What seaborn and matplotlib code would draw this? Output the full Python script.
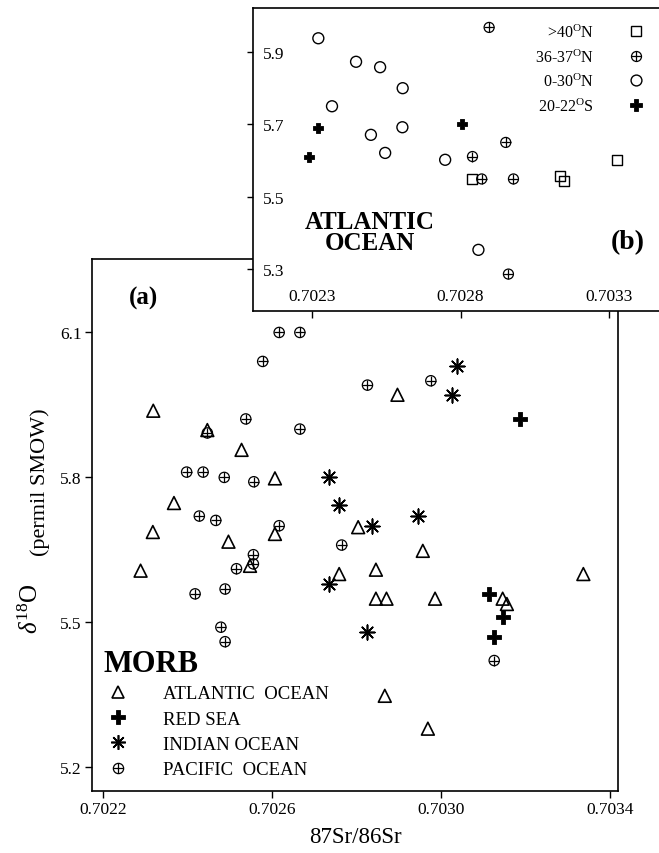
import numpy as np
import pandas as pd
import matplotlib
matplotlib.use("Agg")
import matplotlib.pyplot as plt
from matplotlib.lines import Line2D
import seaborn as sns

# ---------------- data : panel (a) MORB ----------------
atl_x = [0.702319, 0.702447, 0.702528, 0.702607, 0.702368, 0.702804, 0.702318,
         0.702607, 0.702497, 0.702289, 0.702548, 0.702759, 0.702846, 0.702846,
         0.702871, 0.702897, 0.702957, 0.703337, 0.702986, 0.703146, 0.703156,
         0.702867, 0.702969]
atl_y = [5.937, 5.897, 5.856, 5.797, 5.746, 5.696, 5.686,
         5.682, 5.666, 5.606, 5.616, 5.599, 5.608, 5.548,
         5.548, 5.970, 5.647, 5.599, 5.548, 5.548, 5.537,
         5.347, 5.279]

red_x = [0.703187, 0.703114, 0.703146, 0.703126]
red_y = [5.920, 5.558, 5.510, 5.468]

ind_x = [0.703037, 0.703025, 0.702736, 0.702759, 0.702837, 0.702946, 0.702736, 0.702826]
ind_y = [6.030, 5.970, 5.799, 5.741, 5.699, 5.719, 5.579, 5.479]

pac_x = [0.702617, 0.702666, 0.702578, 0.702826, 0.702976, 0.702538, 0.702447,
         0.702666, 0.702398, 0.702437, 0.702487, 0.702557, 0.702428, 0.702467,
         0.702617, 0.702765, 0.702556, 0.702556, 0.702516, 0.702418, 0.702489,
         0.702479, 0.702489, 0.703126]
pac_y = [6.099, 6.099, 6.039, 5.990, 5.999, 5.920, 5.891,
         5.899, 5.810, 5.810, 5.799, 5.790, 5.719, 5.710,
         5.699, 5.659, 5.639, 5.620, 5.610, 5.558, 5.568,
         5.489, 5.459, 5.420]

main_labels = ["ATLANTIC  OCEAN", "RED SEA", "INDIAN OCEAN", "PACIFIC  OCEAN"]
main_xticks = [0.7022, 0.7026, 0.7030, 0.7034]
main_yticks = [5.2, 5.5, 5.8, 6.1]

# ---------------- data : panel (b) Atlantic Ocean ----------------
n40_x = [0.703326, 0.702838, 0.703135, 0.703148]
n40_y = [5.601, 5.549, 5.558, 5.544]

n36_x = [0.702896, 0.702952, 0.702840, 0.702871, 0.702978, 0.702961]
n36_y = [5.968, 5.650, 5.611, 5.549, 5.549, 5.286]

n030_x = [0.702321, 0.702448, 0.702529, 0.702605, 0.702367, 0.702498,
          0.702604, 0.702546, 0.702748, 0.702860]
n030_y = [5.938, 5.873, 5.858, 5.800, 5.750, 5.671,
          5.692, 5.621, 5.602, 5.353]

s20_x = [0.702319, 0.702289, 0.702804]
s20_y = [5.689, 5.611, 5.701]

inset_labels = [r">40$^{\mathrm{O}}$N", r"36-37$^{\mathrm{O}}$N",
                r"0-30$^{\mathrm{O}}$N", r"20-22$^{\mathrm{O}}$S"]
inset_xticks = [0.7023, 0.7028, 0.7033]
inset_yticks = [5.3, 5.5, 5.7, 5.9]

# ---------------- style ----------------
sns.set_style("ticks")
plt.rcParams["font.family"] = ["Liberation Serif", "DejaVu Serif"]
plt.rcParams["mathtext.fontset"] = "custom"
plt.rcParams["mathtext.rm"] = "Liberation Serif"
plt.rcParams["mathtext.it"] = "Liberation Serif:italic"
plt.rcParams["mathtext.bf"] = "Liberation Serif:bold"
plt.rcParams["axes.linewidth"] = 1.2
for key in ["text.color", "axes.labelcolor", "xtick.color", "ytick.color",
            "axes.edgecolor"]:
    plt.rcParams[key] = "black"

W, H = 659, 854
fig = plt.figure(figsize=(W / 100, H / 100), dpi=100)

# main axes (a)
ax = fig.add_axes([92 / W, 62 / H, 526 / W, 532 / H])
# inset axes (b)
ax2 = fig.add_axes([253 / W, (H - 312) / H, (W - 253) / W, 303 / H])
ax2.set_zorder(5)
ax2.patch.set_facecolor("white")

K = "black"
TICK_FS = 12.5

def plus_circle(axis, xs, ys, s):
    sns.scatterplot(x=xs, y=ys, marker="o", s=s, facecolor="none",
                    edgecolor=K, linewidth=0.9, ax=axis, zorder=3)
    sns.scatterplot(x=xs, y=ys, marker="+", s=s, color=K,
                    linewidth=0.9, ax=axis, zorder=3)

# ---- panel (a) ----
sns.scatterplot(x=atl_x, y=atl_y, marker="^", s=85, facecolor="none",
                edgecolor=K, linewidth=1.2, ax=ax, zorder=3)
sns.scatterplot(x=red_x, y=red_y, marker="P", s=100, color=K,
                edgecolor=K, linewidth=0.6, ax=ax, zorder=3)
sns.scatterplot(x=ind_x, y=ind_y, marker=(8, 2, 0), s=110, color=K,
                linewidth=1.2, ax=ax, zorder=3)
plus_circle(ax, pac_x, pac_y, 55)

ax.set_xlim(0.702174, 0.703419)
ax.set_ylim(5.150, 6.251)
ax.set_xticks(main_xticks)
ax.set_xticklabels([f"{v:.4f}" for v in main_xticks])
ax.set_yticks(main_yticks)
ax.set_yticklabels([f"{v:.1f}" for v in main_yticks])
ax.tick_params(direction="out", length=5, width=1, labelsize=TICK_FS, pad=2.5)
for sp in ax.spines.values():
    sp.set_visible(True)
    sp.set_linewidth(1.2)
ax.set_xlabel("87Sr/86Sr", fontsize=16.5, labelpad=6.5)
ax.set_ylabel("")

fig.text(38 / W, 1 - 609 / H, r"$\delta^{18}$O", rotation=90, fontsize=18,
         ha="center", va="baseline", rotation_mode="anchor")
fig.text(45 / W, 1 - 482 / H, "(permil SMOW)", rotation=90, fontsize=16,
         ha="center", va="baseline", rotation_mode="anchor")

ax.text(0.098, 0.927, "(a)", transform=ax.transAxes, fontsize=18,
        fontweight="bold", ha="center", va="center")
ax.text(0.021, 0.24, "MORB", transform=ax.transAxes, fontsize=22,
        fontweight="bold", ha="left", va="center")

h_tri = Line2D([], [], marker="^", ls="none", ms=9.2, mfc="none", mec=K, mew=1.2)
h_red = Line2D([], [], marker="P", ls="none", ms=10, mfc=K, mec=K, mew=0.6)
h_ind = Line2D([], [], marker=(8, 2, 0), ls="none", ms=10.5, color=K, mew=1.2)
h_pc = Line2D([], [], marker="o", ls="none", ms=7.4, mfc="none", mec=K, mew=0.9)
h_pp = Line2D([], [], marker="+", ls="none", ms=7.4, color=K, mew=0.9)
leg = ax.legend([h_tri, h_red, h_ind, (h_pc, h_pp)], main_labels,
                loc="upper left", bbox_to_anchor=(0.013, 0.199),
                frameon=False, fontsize=13.5, handlelength=2.0,
                handletextpad=1.4, labelspacing=0.44, borderpad=0,
                borderaxespad=0)

# ---- panel (b) ----
sns.scatterplot(x=n40_x, y=n40_y, marker="s", s=55, facecolor="none",
                edgecolor=K, linewidth=1.0, ax=ax2, zorder=3)
plus_circle(ax2, n36_x, n36_y, 52)
sns.scatterplot(x=n030_x, y=n030_y, marker="o", s=62, facecolor="none",
                edgecolor=K, linewidth=1.0, ax=ax2, zorder=3)
sns.scatterplot(x=s20_x, y=s20_y, marker="P", s=62, color=K,
                edgecolor=K, linewidth=0.6, ax=ax2, zorder=3)

ax2.set_xlim(0.702101, 0.703468)
ax2.set_ylim(5.1839, 6.0217)
ax2.set_xticks(inset_xticks)
ax2.set_xticklabels([f"{v:.4f}" for v in inset_xticks])
ax2.set_yticks(inset_yticks)
ax2.set_yticklabels([f"{v:.1f}" for v in inset_yticks])
ax2.tick_params(axis="x", direction="out", length=5, width=1,
                labelsize=TICK_FS, pad=-(5 + 5))
ax2.tick_params(axis="y", direction="out", length=4, width=1,
                labelsize=TICK_FS, pad=-(4 + 7))
for lab in ax2.get_xticklabels():
    lab.set_va("bottom")
for lab in ax2.get_yticklabels():
    lab.set_ha("left")
for name, sp in ax2.spines.items():
    sp.set_linewidth(1.2)
    sp.set_visible(name != "right")
ax2.set_xlabel("")
ax2.set_ylabel("")

ax2.text(0.288, 0.261, "ATLANTIC\nOCEAN", transform=ax2.transAxes,
         fontsize=18, fontweight="bold", ha="center", va="center",
         linespacing=0.88)
ax2.text(0.922, 0.228, "(b)", transform=ax2.transAxes, fontsize=20,
         fontweight="bold", ha="center", va="center")

g_sq = Line2D([], [], marker="s", ls="none", ms=7.4, mfc="none", mec=K, mew=1.0)
g_pc = Line2D([], [], marker="o", ls="none", ms=7.2, mfc="none", mec=K, mew=0.9)
g_pp = Line2D([], [], marker="+", ls="none", ms=7.2, color=K, mew=0.9)
g_ci = Line2D([], [], marker="o", ls="none", ms=7.8, mfc="none", mec=K, mew=1.0)
g_cr = Line2D([], [], marker="P", ls="none", ms=8, mfc=K, mec=K, mew=0.6)
leg2 = ax2.legend([g_sq, (g_pc, g_pp), g_ci, g_cr], inset_labels,
                  loc="upper right", bbox_to_anchor=(0.983, 0.948),
                  frameon=False, fontsize=11.5, markerfirst=False,
                  handlelength=2.0, handletextpad=1.65, labelspacing=0.45,
                  borderpad=0, borderaxespad=0)
for col in leg2._legend_handle_box.get_children():
    col.align = "right"

fig.savefig("out.png", dpi=100)
